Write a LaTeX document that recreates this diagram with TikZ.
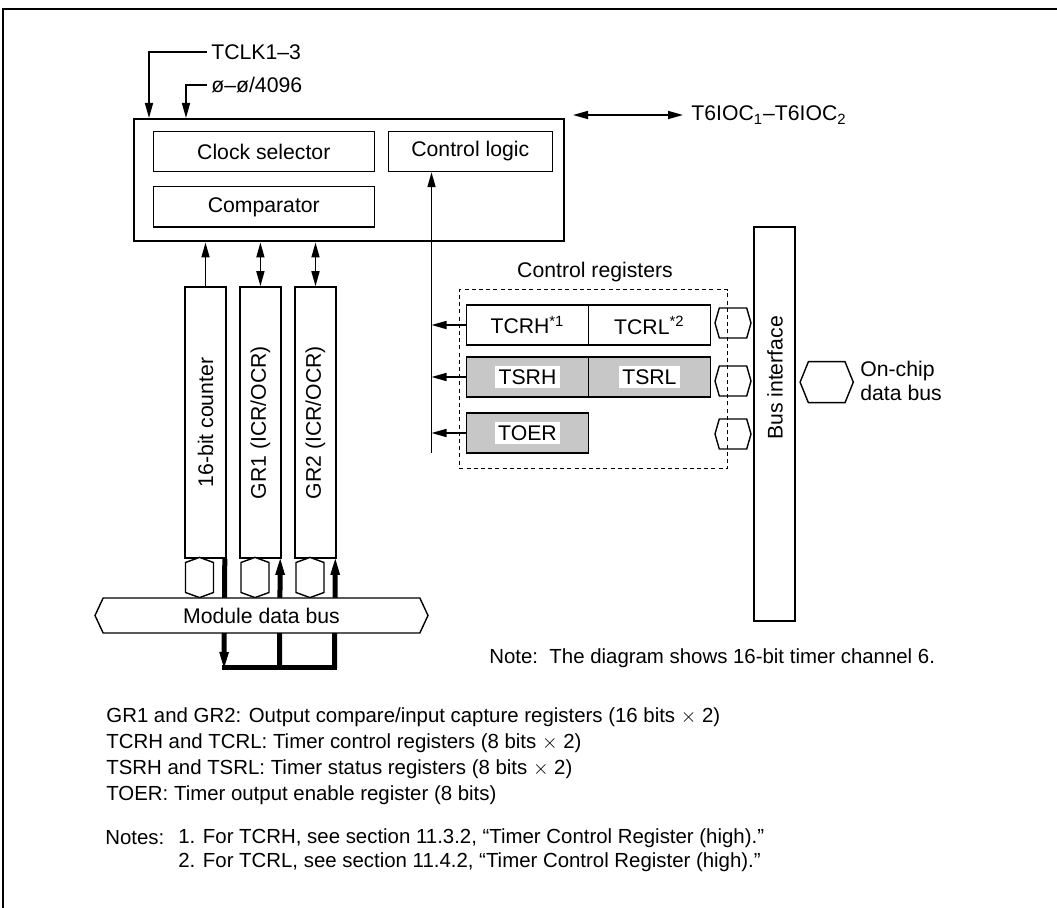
\documentclass[tikz,border=0pt]{standalone}
\usepackage{fontspec}
\setmainfont{Liberation Sans}
\usetikzlibrary{arrows.meta,shapes.symbols,positioning,calc}
\definecolor{regshade}{gray}{0.78}

\begin{document}
\begin{tikzpicture}[
  x=0.5pt, y=-0.5pt,
  font=\fontsize{10.6}{11.8}\selectfont,
  outer/.style={rectangle, draw, line width=1pt, inner sep=0pt},
  box/.style={rectangle, draw, line width=0.6pt, inner sep=0pt, minimum height=20.2pt},
  col/.style={rectangle, draw, line width=0.8pt, inner sep=0pt, minimum width=20.5pt, minimum height=135.5pt},
  reg/.style={rectangle, draw, line width=0.8pt, inner sep=0pt, minimum width=61pt, minimum height=20pt},
  shaded/.style={reg, fill=regshade},
  tag/.style={fill=white, inner sep=1.8pt},
  hexh/.style={signal, signal to=east and west, draw, line width=0.7pt, inner sep=0pt},
  hexv/.style={signal, signal to=north and south, draw, line width=0.7pt, inner sep=0pt, fill=white},
  arr/.style={-{Triangle[length=7.5pt,width=4pt]}, line width=0.8pt},
  dbl/.style={{Triangle[length=7.5pt,width=4pt]}-{Triangle[length=7.5pt,width=4pt]}, line width=0.8pt},
  fat/.style={line width=2.5pt},
  fatarr/.style={-{Triangle[length=8pt,width=4.8pt,line width=0.4pt]}},
  legend/.style={anchor=west, inner sep=0pt, font=\fontsize{10.2}{13}\selectfont}
]
\useasboundingbox (0,0) rectangle (1057,908);
\draw[line width=1pt] (1057,9) -- (3,9) -- (3,908);

% timer core
\node[outer, minimum width=215pt, minimum height=61.25pt] (ctl) at (349,180.25) {};
\node[box, minimum width=110.5pt] (clksel) at (263.8,151.5) {Clock selector};
\node[box, minimum width=110.5pt] (cmp) at (263.8,206.9) {Comparator};
\node[box, minimum width=82pt] (ctllogic) at (470.3,151.4) {Control logic};

% clock inputs
\coordinate (clkA) at (149,0);
\coordinate (clkB) at (186,0);
\node[anchor=west, inner sep=2pt] (tclk) at (207,52) {TCLK1–3};
\node[anchor=west, inner sep=2pt] (phi) at (207,85) {ø–ø/4096};
\draw[arr] (tclk.west) -| (ctl.north -| clkA);
\draw[arr] (phi.west) -| (ctl.north -| clkB);

% output pins
\coordinate (tiocL) at (573,115);
\node[anchor=west, inner sep=4pt] (tioc) at (683,115) {T6IOC\textsubscript{1}–T6IOC\textsubscript{2}};
\draw[dbl] (tiocL) -- (tioc.west);

% counter and general registers
\node[col] (cnt) at (205.5,422.5) {\rotatebox{90}{16-bit counter}};
\node[col] (gr1) at (260.4,422.5) {\rotatebox{90}{GR1 (ICR/OCR)}};
\node[col] (gr2) at (315.5,422.5) {\rotatebox{90}{GR2 (ICR/OCR)}};
\draw[arr] (cnt.north) -- (cnt.north |- ctl.south);
\draw[dbl] (gr1.north) -- (gr1.north |- ctl.south);
\draw[dbl] (gr2.north) -- (gr2.north |- ctl.south);

% module data bus
\coordinate (c0) at (224,668);
\coordinate (c1) at (279.5,668);
\coordinate (c2) at (334.5,668);
\draw[fat, fatarr] ($(cnt.south east)+(-2,0)$) -- (c0);
\draw[fat, line cap=rect] (c0) -- (c2);
\draw[fat, fatarr] (c1) -- ($(gr1.south east)+(-1.5,0)$);
\draw[fat, fatarr] (c2) -- ($(gr2.south east)+(-1.5,0)$);
\node[hexv, minimum width=14pt, minimum height=15pt, signal pointer angle=140] (hcnt) at (199.5,577.5) {};
\node[hexv, minimum width=14pt, minimum height=15pt, signal pointer angle=140] (hgr1) at (255,577.5) {};
\node[hexv, minimum width=14pt, minimum height=15pt, signal pointer angle=140] (hgr2) at (310,577.5) {};
\node[hexh, fill=white, minimum width=166.5pt, minimum height=17.5pt, signal pointer angle=130] (mbus) at (261.5,615.5) {Module data bus};

% control registers
\node (regtitle) at (595,272) {Control registers};
\node[draw, dashed, dash pattern=on 2pt off 1.6pt, line width=0.5pt, inner sep=0pt,
      minimum width=134.1pt, minimum height=89.25pt] (regframe) at (593.4,379.25) {};
\node[reg] (tcrh) at (527.5,325) {TCRH\textsuperscript{*1}};
\node[reg] (tcrl) at (649.4,325) {TCRL\textsuperscript{*2}};
\node[shaded] (tsrh) at (527.5,377) {};
\node[shaded] (tsrl) at (649.4,377) {};
\node[shaded] (toer) at (527.5,433) {};
\node[tag] at (tsrh) {TSRH};
\node[tag] at (tsrl) {TSRL};
\node[tag] at (toer) {TOER};
\node[hexh, minimum width=18pt, minimum height=15pt, signal pointer angle=148] (hcr) at (733,323) {};
\node[hexh, minimum width=18pt, minimum height=15pt, signal pointer angle=148] (hsr) at (733,381) {};
\node[hexh, minimum width=18pt, minimum height=15pt, signal pointer angle=148] (hoe) at (733,434) {};

\coordinate (busline) at (431.5,453);
\draw[arr] (busline) -- (busline |- ctllogic.south);
\draw[arr] (tcrh.west) -- (tcrh.west -| busline);
\draw[arr] (tsrh.west) -- (tsrh.west -| busline);
\draw[arr] (toer.west) -- (toer.west -| busline);

% bus interface
\node[rectangle, draw, line width=0.8pt, inner sep=0pt, minimum width=20.5pt, minimum height=197pt] (busif) at (774.5,424) {};
\node[rotate=90] (bustext) at (775,378) {Bus interface};
\node[hexh, minimum width=26.6pt, minimum height=20.5pt, signal pointer angle=136] (hchip) at (826.7,382.2) {};
\node[anchor=west, align=left, inner sep=0pt] (chiptext) at (860,381) {On-chip\\data bus};

% notes
\node[legend] (note) at (489,658) {Note:\ \ The diagram shows 16-bit timer channel 6.};
\node[legend, align=left] (abbr) at (106,756) {GR1 and GR2: Output compare/input capture registers (16 bits $\times$ 2)\\
TCRH and TCRL: Timer control registers (8 bits $\times$ 2)\\
TSRH and TSRL: Timer status registers (8 bits $\times$ 2)\\
TOER: Timer output enable register (8 bits)};
\node[legend] (notes) at (105,838) {Notes:};
\node[legend, align=left, font=\fontsize{10.2}{12}\selectfont] (notelist) at (178,850) {1. For TCRH, see section 11.3.2, “Timer Control Register (high).”\\
2. For TCRL, see section 11.4.2, “Timer Control Register (high).”};

\end{tikzpicture}
\end{document}
